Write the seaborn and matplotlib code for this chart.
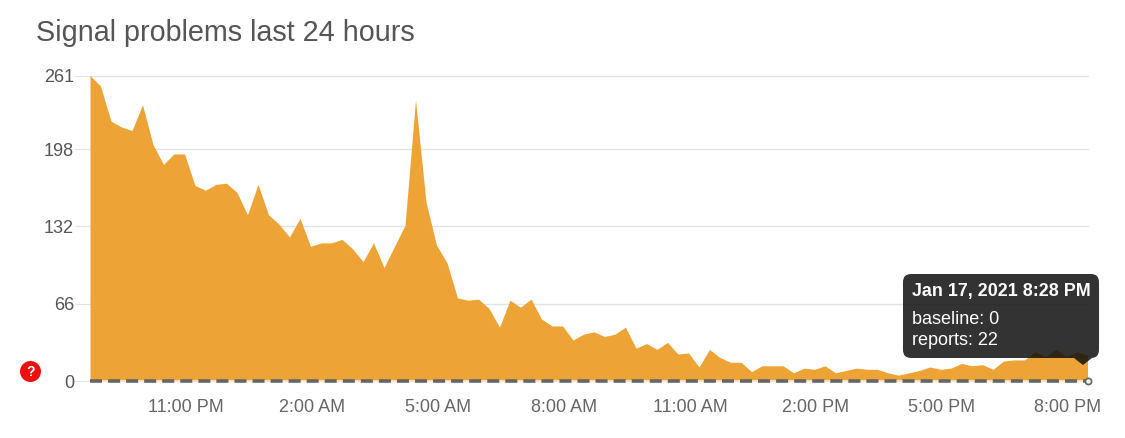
import numpy as np
import pandas as pd
import seaborn as sns
import matplotlib.pyplot as plt
import matplotlib.dates as mdates
from matplotlib.patches import FancyBboxPatch, Polygon, Circle
from matplotlib.transforms import IdentityTransform

# Data, one reading every 15 minutes
reports = [261, 252, 222, 217, 214, 236, 202, 185, 194, 194, 167, 163, 168, 169, 161, 142,
           168, 142, 134, 123, 139, 115, 118, 118, 121, 113, 102, 118, 97, 115, 133, 240,
           153, 116, 101, 71, 69, 70, 62, 46, 69, 63, 70, 53, 47, 47, 35, 40,
           42, 38, 40, 46, 28, 32, 27, 33, 23, 24, 12, 27, 20, 16, 16, 8,
           13, 13, 13, 7, 11, 10, 13, 7, 9, 11, 10, 10, 7, 5, 7, 9,
           12, 10, 11, 15, 13, 14, 10, 17, 18, 18, 25, 21, 27, 21, 25, 22]
start_time = '2021-01-16 20:43'
end_time = '2021-01-17 20:28'
y_ticks = [0, 66, 132, 198, 261]
x_ticks = ['2021-01-16 23:00', '2021-01-17 02:00', '2021-01-17 05:00', '2021-01-17 08:00',
           '2021-01-17 11:00', '2021-01-17 14:00', '2021-01-17 17:00', '2021-01-17 20:00']
x_labels = ['11:00 PM', '2:00 AM', '5:00 AM', '8:00 AM', '11:00 AM', '2:00 PM', '5:00 PM', '8:00 PM']
title = 'Signal problems last 24 hours'
tip_title = 'Jan 17, 2021 8:28 PM'
tip_lines = ['baseline: 0', 'reports: 22']

W, H = 1125, 438
ORANGE = '#eea336'

sns.set_theme(style='white')
plt.rcParams['font.family'] = ['Liberation Sans', 'DejaVu Sans']

df = pd.DataFrame({'time': pd.date_range(start_time, end_time, periods=len(reports)),
                   'reports': reports})
df['baseline'] = 0

fig = plt.figure(figsize=(W / 100, H / 100), dpi=100)
ax = fig.add_axes([90 / W, (H - 381) / H, 997.5 / W, 305.5 / H])

# Area
ax.fill_between(df['time'], df['reports'], color=ORANGE, linewidth=0, zorder=2)

# Baseline, light under the dashes
sns.lineplot(data=df, x='time', y='baseline', color='#f6e3c4', linewidth=1.4, ax=ax, zorder=3, clip_on=False)
sns.lineplot(data=df, x='time', y='baseline', color='#666666', linewidth=2.6, ax=ax, zorder=4, clip_on=False,
             linestyle=(0, (12 / 3.6, 6 / 3.6)))
sns.scatterplot(data=df.tail(1), x='time', y='baseline', s=20, color='#f2f2f2', edgecolor='#666666',
                linewidth=1.2, ax=ax, zorder=5, clip_on=False)

ax.set_xlim(df['time'].iloc[0], df['time'].iloc[-1])
ax.set_ylim(0, 261)
ax.set_xlabel('')
ax.set_ylabel('')
sns.despine(ax=ax, left=True, bottom=True, top=True, right=True)

ax.set_yticks(y_ticks)
ax.set_xticks(mdates.date2num(pd.to_datetime(x_ticks)))
ax.set_xticklabels(x_labels)
ax.grid(axis='y', color='#e1e3e7', linewidth=1, zorder=1)
ax.set_axisbelow(True)
for line in ax.get_ygridlines():
    line.set_clip_on(False)
ax.tick_params(axis='y', length=11, width=0.8, color='#e1e3e7', pad=0.5, labelsize=13, labelcolor='#555555', left=True)
ax.tick_params(axis='x', length=0, pad=13, labelsize=13, labelcolor='#666666')
ax.yaxis.get_major_ticks()[0].tick1line.set_color('#999999')

fig.text(36 / W, (H - 41) / H, title, fontsize=20.7, color='#555555', va='baseline')

# Help badge
pix = IdentityTransform()
fig.add_artist(Circle((30.5, H - 371.5), 10.5, color='#f00f0f', transform=pix, linewidth=0))
fig.text(30.5 / W, (H - 371.5) / H, '?', fontsize=10, fontweight='bold', color='white', ha='center', va='center')

# Tooltip
fig.add_artist(FancyBboxPatch((903 + 8, H - 358 + 8), 196 - 16, 84 - 16, boxstyle='round,pad=8,rounding_size=8',
                              facecolor='#0f0f0f', alpha=0.85, edgecolor='none', transform=pix, zorder=10))
fig.add_artist(Polygon([(1074, H - 358), (1092, H - 358), (1083, H - 365)], closed=True,
                       facecolor='#0f0f0f', alpha=0.85, edgecolor='none', transform=pix, zorder=10))
fig.text(912 / W, (H - 296) / H, tip_title, fontsize=12.9, fontweight='bold', color='white', va='baseline', zorder=11)
fig.text(912 / W, (H - 324) / H, tip_lines[0], fontsize=13, color='white', va='baseline', zorder=11)
fig.text(912 / W, (H - 345) / H, tip_lines[1], fontsize=13, color='white', va='baseline', zorder=11)

fig.savefig('out.png', dpi=100)
